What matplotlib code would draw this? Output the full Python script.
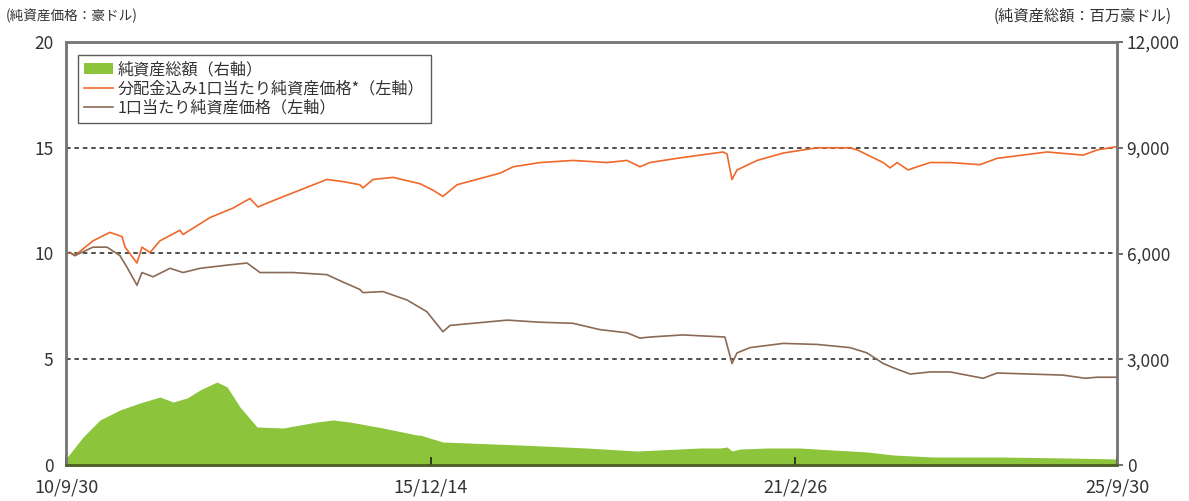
import matplotlib
matplotlib.use("Agg")
import matplotlib.pyplot as plt
import pandas as pd
from matplotlib.patches import Patch
from matplotlib.lines import Line2D

plt.rcParams['font.family'] = ['Noto Sans CJK JP', 'DejaVu Sans']

# ---- data ----
nav_adj_dates = ['2010-09-30', '2010-10-21', '2010-11-15', '2011-02-18', '2011-05-17', '2011-07-19',
                 '2011-08-04', '2011-10-05', '2011-10-31', '2011-12-12', '2012-02-02', '2012-05-16',
                 '2012-06-01', '2012-10-20', '2013-02-17', '2013-05-16', '2013-06-27', '2013-09-14',
                 '2014-02-01', '2014-06-21', '2014-09-13', '2014-12-10', '2014-12-26', '2015-02-16',
                 '2015-06-01', '2015-10-19', '2015-12-25', '2016-02-16', '2016-04-29', '2016-12-10',
                 '2017-02-16', '2017-07-07', '2017-12-25', '2018-06-21', '2018-10-03', '2018-12-09',
                 '2019-01-30', '2019-06-20', '2020-02-15', '2020-03-07', '2020-04-02', '2020-04-28',
                 '2020-08-11', '2020-12-25', '2021-06-20', '2021-12-08', '2022-01-14', '2022-05-30',
                 '2022-07-05', '2022-08-11', '2022-10-07', '2022-11-23', '2023-01-30', '2023-05-14',
                 '2023-10-17', '2024-01-14', '2024-10-01', '2025-04-07', '2025-06-19', '2025-09-30']
nav_adj = [10.0, 10.05, 9.9, 10.6, 11.0, 10.8,
           10.3, 9.55, 10.3, 10.05, 10.6, 11.1,
           10.9, 11.7, 12.15, 12.6, 12.2, 12.5,
           13.0, 13.5, 13.4, 13.25, 13.1, 13.5,
           13.6, 13.3, 13.0, 12.7, 13.25, 13.8,
           14.1, 14.3, 14.4, 14.3, 14.4, 14.1,
           14.3, 14.5, 14.8, 14.7, 13.5, 13.95,
           14.4, 14.75, 15.0, 15.0, 14.9, 14.3,
           14.05, 14.3, 13.95, 14.1, 14.3, 14.3,
           14.2, 14.5, 14.8, 14.65, 14.9, 15.05]

nav_dates = ['2010-09-30', '2010-10-21', '2010-11-15', '2011-02-18', '2011-05-02', '2011-07-08',
             '2011-08-14', '2011-10-05', '2011-10-31', '2011-12-28', '2012-03-25', '2012-06-01',
             '2012-08-29', '2013-01-17', '2013-05-01', '2013-07-07', '2013-12-27', '2014-06-21',
             '2014-09-13', '2014-12-10', '2014-12-26', '2015-04-09', '2015-08-13', '2015-11-24',
             '2016-02-16', '2016-03-24', '2016-07-22', '2017-01-16', '2017-07-07', '2017-12-25',
             '2018-05-15', '2018-10-03', '2018-12-09', '2019-01-30', '2019-07-21', '2020-02-25',
             '2020-04-02', '2020-04-28', '2020-07-05', '2020-12-25', '2021-06-20', '2021-12-08',
             '2022-03-07', '2022-05-30', '2022-07-21', '2022-10-18', '2023-01-30', '2023-05-14',
             '2023-11-02', '2024-01-14', '2024-12-23', '2025-04-17', '2025-06-19', '2025-09-30']
nav = [10.0, 10.05, 9.9, 10.3, 10.3, 9.9,
       9.35, 8.5, 9.1, 8.9, 9.3, 9.1,
       9.3, 9.45, 9.55, 9.1, 9.1, 9.0,
       8.65, 8.3, 8.15, 8.2, 7.8, 7.25,
       6.3, 6.6, 6.7, 6.85, 6.75, 6.7,
       6.4, 6.25, 6.0, 6.05, 6.15, 6.05,
       4.8, 5.3, 5.55, 5.75, 5.7, 5.55,
       5.3, 4.8, 4.6, 4.3, 4.4, 4.4,
       4.1, 4.35, 4.25, 4.1, 4.15, 4.15]

aum_dates = ['2010-09-30', '2010-10-03', '2010-12-28', '2011-03-26', '2011-07-08', '2011-10-21',
             '2012-02-02', '2012-04-10', '2012-06-22', '2012-08-29', '2012-11-25', '2013-01-17',
             '2013-03-25', '2013-06-22', '2013-11-05', '2014-04-30', '2014-07-22', '2014-10-19',
             '2015-04-09', '2015-10-04', '2015-10-19', '2016-02-16', '2017-03-25', '2018-03-08',
             '2018-11-24', '2019-10-18', '2020-01-30', '2020-03-07', '2020-04-02', '2020-05-14',
             '2020-10-02', '2021-03-24', '2021-09-11', '2022-03-07', '2022-07-21', '2023-02-14',
             '2024-01-29', '2025-01-13', '2025-09-30']
aum = [60, 200, 794, 1277, 1560, 1759,
       1929, 1787, 1900, 2128, 2355, 2213,
       1645, 1078, 1050, 1220, 1277, 1220,
       1050, 851, 851, 652, 567, 482,
       397, 482, 482, 510, 397, 454,
       482, 482, 425, 369, 284, 227,
       227, 199, 170]

tick_dates = ['2010-09-30', '2015-12-14', '2021-02-26', '2025-09-30']
tick_labels = ['10/9/30', '15/12/14', '21/2/26', '25/9/30']

C_GREEN = '#8cc43c'
C_ORANGE = '#f0682a'
C_BROWN = '#8a6a55'
C_TEXT = '#333333'

fig = plt.figure(figsize=(11.89, 5.01), dpi=100)
ax = fig.add_axes([66/1189, 36/501, 1051/1189, 423/501])
ax2 = ax.twinx()

# total net assets (right axis)
ax2.fill_between(pd.to_datetime(aum_dates), aum, 0, color=C_GREEN, lw=0)
ax2.set_ylim(0, 12000)
ax2.set_yticks([0, 3000, 6000, 9000, 12000])
ax2.set_yticklabels(['0', '3,000', '6,000', '9,000', '12,000'])

# lines on left axis, drawn above the fill
ax.set_zorder(ax2.get_zorder() + 1)
ax.patch.set_visible(False)
ax.plot(pd.to_datetime(nav_adj_dates), nav_adj, color=C_ORANGE, lw=1.2)
ax.plot(pd.to_datetime(nav_dates), nav, color=C_BROWN, lw=1.2)
ax.set_ylim(0, 20)
ax.set_yticks([0, 5, 10, 15, 20])
for v in [5, 10, 15]:
    ax.axhline(v, color='#222222', lw=1.1, ls=(0, (3, 2.5)), zorder=0)

ax.set_xlim(pd.Timestamp('2010-09-30'), pd.Timestamp('2025-09-30'))
ax.set_xticks(pd.to_datetime(tick_dates))
ax.set_xticklabels(tick_labels)

ax.tick_params(axis='x', direction='in', length=6, width=1.2, color='#222222',
               labelsize=13, labelcolor=C_TEXT, pad=10)
ax.tick_params(axis='y', length=0, labelsize=12.5, labelcolor=C_TEXT, pad=9)
ax2.tick_params(axis='y', direction='out', length=4, width=1.2, color='#555555',
                labelsize=12.5, labelcolor=C_TEXT, pad=3)

for a in (ax, ax2):
    for side in ('top', 'left', 'right'):
        a.spines[side].set_color('#777777')
        a.spines[side].set_linewidth(1.8)
    a.spines['bottom'].set_color('#4f6026')
    a.spines['bottom'].set_linewidth(1.8)

handles = [Patch(facecolor=C_GREEN, edgecolor='none'),
           Line2D([], [], color=C_ORANGE, lw=1.2),
           Line2D([], [], color=C_BROWN, lw=1.2)]
labels = ['純資産総額（右軸）', '分配金込み1口当たり純資産価格*（左軸）', '1口当たり純資産価格（左軸）']
leg = ax.legend(handles, labels, loc='upper left', bbox_to_anchor=(0.011, 0.97),
                borderaxespad=0, frameon=True, fancybox=False, fontsize=11.6,
                handlelength=1.8, handleheight=0.6, handletextpad=0.3,
                labelspacing=0.14, borderpad=0.4, labelcolor=C_TEXT)
leg.get_frame().set_edgecolor('#333333')
leg.get_frame().set_linewidth(1.0)

fig.text(6/1189, 1 - 16/501, '(純資産価格：豪ドル)', fontsize=9.8, color=C_TEXT,
         ha='left', va='center')
fig.text(1172/1189, 1 - 16/501, '(純資産総額：百万豪ドル)', fontsize=11, color=C_TEXT,
         ha='right', va='center')

fig.savefig('out.png', dpi=100)
